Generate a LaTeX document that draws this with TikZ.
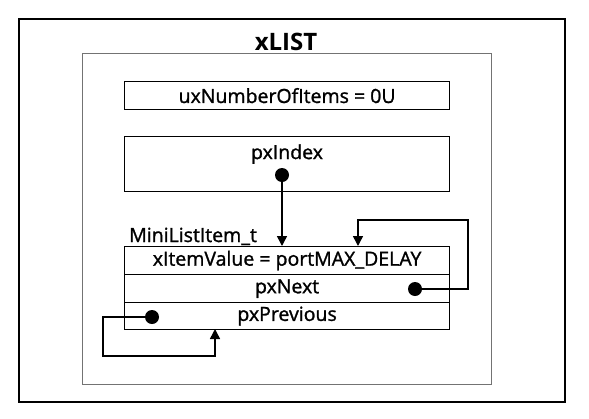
\documentclass[tikz,border=0pt]{standalone}
\usepackage{fontspec}
\setmainfont{Open Sans}
\newfontfamily\medfont{Open Sans}[FakeBold=1.3]
\usetikzlibrary{arrows.meta}
\begin{document}
\begin{tikzpicture}[x=1pt,y=-1pt,
  txt/.style={font=\medfont\fontsize{19.5}{22}\selectfont},
  fbox/.style={txt,draw=black,line width=1.2pt,minimum width=325pt,inner sep=0pt,anchor=north west},
  dot/.style={circle,fill=black,minimum size=14pt,inner sep=0pt},
  conn/.style={line width=1.5pt,line join=miter},
  tip/.style={-{Triangle[width=10pt,length=10pt]}}]
\useasboundingbox (0,0) rectangle (589,418);
% outer and inner frames
\node[draw=black,line width=2pt,minimum width=546pt,minimum height=383pt,anchor=north west,inner sep=0pt] (outer) at (18,18) {};
\node[draw=black!55,line width=1.2pt,minimum width=409pt,minimum height=331pt,anchor=north west,inner sep=0pt] (inner) at (82,53) {};
\node[font=\bfseries\fontsize{24}{28}\selectfont] (title) at (286,42) {xLIST};
% fields
\node[fbox,minimum height=28pt] (num) at (124,81) {uxNumberOfItems = 0U};
\node[fbox,minimum height=55pt] (idx) at (124,136) {};
\node[txt] (idxt) at (287,154) {pxIndex};
\node[dot] (di) at (282,175) {};
\node[txt,anchor=base west,inner sep=0pt] (mlabel) at (129,242) {MiniListItem\_t};
\node[fbox,minimum height=28pt] (r1) at (124,246) {xItemValue = portMAX\_DELAY};
\node[fbox,minimum height=28pt] (r2) at (124,274) {pxNext};
\node[fbox,minimum height=27pt] (r3) at (124,302) {pxPrevious};
\node[dot] (dn) at (415,289) {};
\node[dot] (dp) at (152,317) {};
\coordinate (c1) at (468,220);
\coordinate (t2) at (358,246);
\coordinate (c2) at (103,356);
\coordinate (t3) at (215,329);
% connectors
\draw[conn,tip] (di) -- (di |- r1.north);
\draw[conn,tip] (dn) -| (c1) -| (t2);
\draw[conn,tip] (dp) -| (c2) -| (t3);
\end{tikzpicture}
\end{document}
